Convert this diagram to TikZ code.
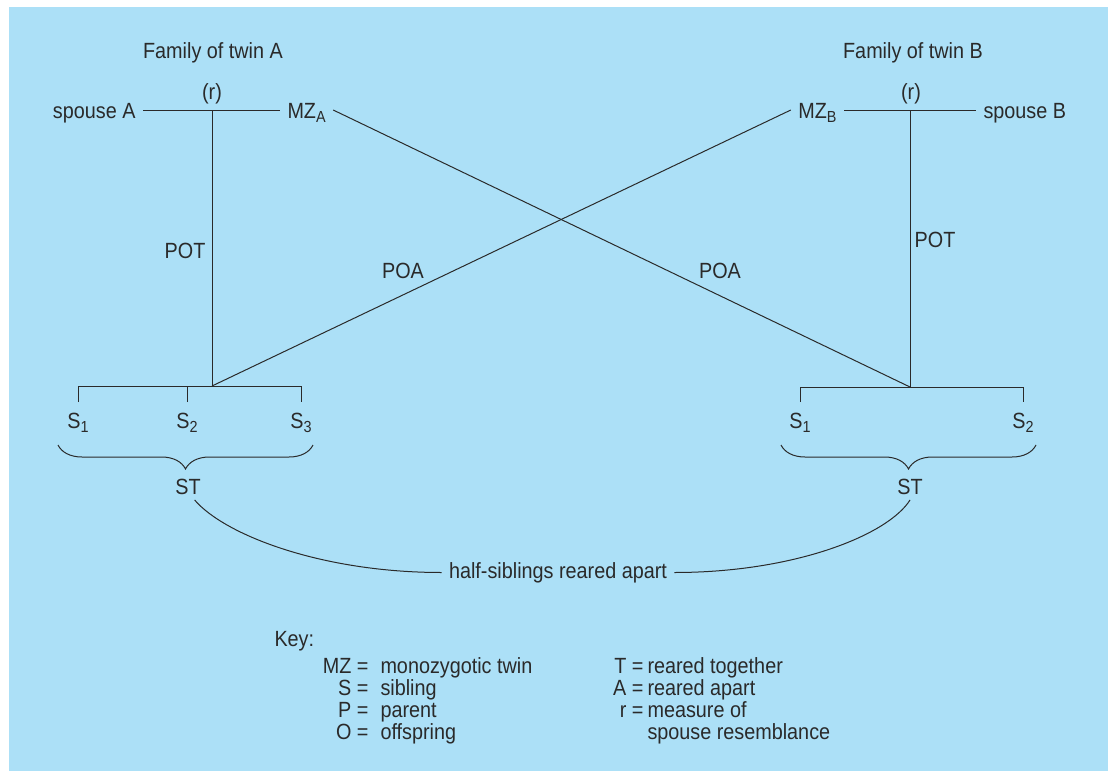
\documentclass[tikz,border=0pt]{standalone}
\usepackage{fontspec}
\setmainfont[FakeStretch=0.9]{Liberation Sans}
\usetikzlibrary{decorations.pathreplacing}
\definecolor{bgblue}{RGB}{172,224,247}
\definecolor{ink}{RGB}{42,42,42}
\newcommand\sub[1]{\raisebox{-4.5pt}{\fontsize{16}{16}\selectfont #1}}

\begin{document}
\begin{tikzpicture}[x=1pt, y=1pt, line width=1pt, color=ink,
  lbl/.style={font=\fontsize{22}{26}\selectfont, text height=15.5pt, text depth=4.5pt, inner xsep=7pt, inner ysep=1pt, anchor=base},
  sib/.style={lbl, outer ysep=9.5pt},
  keyl/.style={font=\fontsize{22}{26}\selectfont, inner sep=0pt, anchor=base east},
  keyr/.style={font=\fontsize{22}{26}\selectfont, inner sep=0pt, anchor=base west},
  brc/.style={decorate, decoration={brace, mirror, amplitude=24pt}}]
\useasboundingbox (0,0) rectangle (1108,-771);
\fill[bgblue] (9,-7) rectangle (1108,-771);

\node[lbl] (famA) at (213,-58) {Family of twin A};
\node[lbl] (famB) at (913,-58) {Family of twin B};
\coordinate (topA) at (212,-110);
\coordinate (topB) at (910,-110);
\coordinate (botA) at (212,-386);
\coordinate (botB) at (910,-387);
\node[lbl] (rA) at (212,-99) {(r)};
\node[lbl] (rB) at (911,-99) {(r)};
\node[lbl, anchor=base east] (spA) at (143,-118) {spouse A};
\node[lbl, anchor=base west] (MZA) at (280,-118) {MZ\sub{A}};
\node[lbl, anchor=base east] (MZB) at (844,-118) {MZ\sub{B}};
\node[lbl, anchor=base west] (spB) at (976,-118) {spouse B};

\draw (spA.east |- topA) -- (MZA.west |- topA);
\draw (MZB.east |- topB) -- (spB.west |- topB);
\draw (topA) -- (botA);
\draw (topB) -- (botB);
\draw (MZA.east |- topA) -- (botB);
\draw (MZB.west |- topB) -- (botA);

\node[lbl] (potA) at (185,-258) {POT};
\node[lbl] (potB) at (935,-247) {POT};
\node[lbl] (poaA) at (403,-278) {POA};
\node[lbl] (poaB) at (720,-278) {POA};

\node[sib] (S1A) at (78,-428) {S\sub{1}};
\node[sib] (S2A) at (187,-428) {S\sub{2}};
\node[sib] (S3A) at (301,-428) {S\sub{3}};
\node[sib] (S1B) at (800,-428) {S\sub{1}};
\node[sib] (S2B) at (1023,-428) {S\sub{2}};

\draw (S1A.north) -- (S1A.north |- botA) -- (S3A.north |- botA) -- (S3A.north);
\draw (S2A.north) -- (S2A.north |- botA);
\draw (S1B.north) -- (S1B.north |- botB) -- (S2B.north |- botB) -- (S2B.north);

\coordinate (brA1) at (58,-445);
\coordinate (brA2) at (313,-445);
\coordinate (brB1) at (781,-445);
\coordinate (brB2) at (1036,-445);
\draw[brc] (brA1) -- (brA2);
\draw[brc] (brB1) -- (brB2);

\node[lbl] (STA) at (188,-494) {ST};
\node[lbl] (STB) at (910,-494) {ST};
\node[lbl] (half) at (558,-578) {half-siblings reared apart};
\draw (STA.-60) .. controls +(30,-35) and +(-120,0) .. (half.west);
\draw (half.east) .. controls +(120,0) and +(-22,-35) .. (STB.south);

\node[keyr] (key) at (274,-646) {Key:};
\node[keyl] (kMZ) at (369,-673) {MZ =};
\node[keyr] (dMZ) at (380,-673) {monozygotic twin};
\node[keyl] (kS) at (369,-695) {S =};
\node[keyr] (dS) at (380,-695) {sibling};
\node[keyl] (kP) at (369,-717) {P =};
\node[keyr] (dP) at (380,-717) {parent};
\node[keyl] (kO) at (369,-739) {O =};
\node[keyr] (dO) at (380,-739) {offspring};
\node[keyl] (kT) at (644,-673) {T =};
\node[keyr] (dT) at (647,-673) {reared together};
\node[keyl] (kA) at (644,-695) {A =};
\node[keyr] (dA) at (647,-695) {reared apart};
\node[keyl] (kr) at (644,-717) {r =};
\node[keyr] (dr) at (647,-717) {measure of};
\node[keyr] (dr2) at (647,-739) {spouse resemblance};
\end{tikzpicture}
\end{document}
